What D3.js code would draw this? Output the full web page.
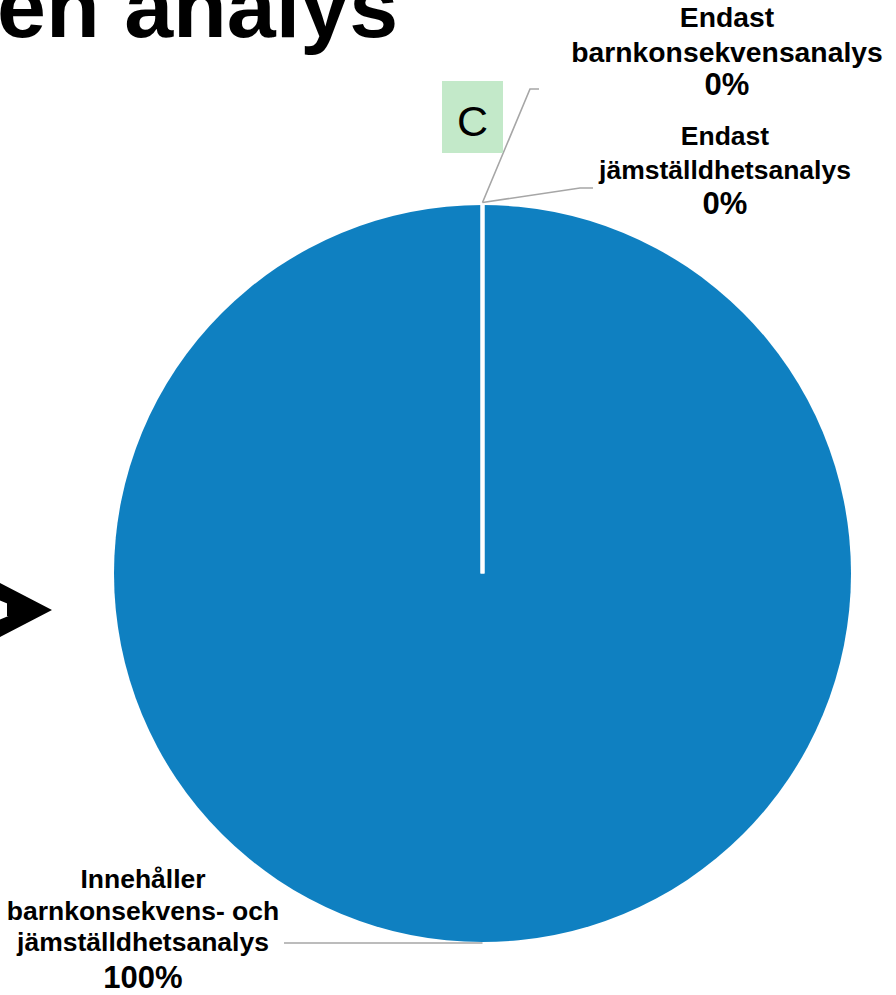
<!DOCTYPE html>
<html>
<head>
<meta charset="utf-8">
<script src="https://cdn.jsdelivr.net/npm/d3@7"></script>
<style>
  html, body { margin: 0; padding: 0; background: #fff; overflow: hidden; }
  svg { display: block; font-family: "Liberation Sans", Arial, sans-serif; }
</style>
</head>
<body>
<svg id="chart" width="896" height="995"></svg>
<script>
// ---- data ----
const categories = [
  "Endast barnkonsekvensanalys",
  "Endast jämställdhetsanalys",
  "Innehåller barnkonsekvens- och jämställdhetsanalys"
];
const values = [0, 0, 100];
const labelLines = [
  ["Endast", "barnkonsekvensanalys"],
  ["Endast", "jämställdhetsanalys"],
  ["Innehåller", "barnkonsekvens- och", "jämställdhetsanalys"]
];
const titleText = "en analys";
const boxText = "C";

// ---- layout ----
const W = 896, H = 995;
const cx = 482.5, cy = 573.5, R = 368.5;
const sliceColor = "#0f80c1";
const leaderColor = "#a6a6a6";

const svg = d3.select("#chart");

// title (cut off at top, as in the reference)
svg.append("text")
  .attr("x", -3).attr("y", 37)
  .attr("font-size", 88).attr("font-weight", "bold")
  .attr("fill", "#000")
  .text(titleText);

// chevron arrow at left
svg.append("path")
  .attr("d", "M-6,580 L52,610 L-6,640 Z M-6,598 L23,610 L-6,622 Z")
  .attr("fill", "#000").attr("fill-rule", "evenodd");
svg.append("rect")
  .attr("x", 7).attr("y", 603).attr("width", 16).attr("height", 13)
  .attr("fill", "#000");

// pie
const total = d3.sum(values);
const pie = d3.pie().sort(null).value(d => d.value).startAngle(0).endAngle(2 * Math.PI);
const arcs = pie(categories.map((c, i) => ({ name: c, value: values[i], lines: labelLines[i] })));
const arc = d3.arc().innerRadius(0).outerRadius(R);

const g = svg.append("g").attr("transform", `translate(${cx},${cy})`);
g.selectAll("path.slice")
  .data(arcs)
  .join("path")
  .attr("class", "slice")
  .attr("d", arc)
  .attr("fill", sliceColor)
  .attr("stroke", "none");
// slice borders (zero-width slices show as the white divider)
g.selectAll("path.border")
  .data(arcs.filter(d => d.endAngle - d.startAngle < 2 * Math.PI - 1e-6))
  .join("path")
  .attr("class", "border")
  .attr("d", arc)
  .attr("fill", "none")
  .attr("stroke", "#fff")
  .attr("stroke-width", 4);

function anchor(d, extra) {
  const a = (d.startAngle + d.endAngle) / 2;
  const r = R + extra;
  return [cx + r * Math.sin(a), cy - r * Math.cos(a)];
}

const labelLayout = [
  { x: 727, fs: 28.3, base: [27, 61.5], pct: 94.5, elbow: [[530, 89], [539, 89]] },
  { x: 725, fs: 26.5, base: [145, 178.5], pct: 214, elbow: [[580, 188], [593, 188]] },
  { x: 143, fs: 26.5, base: [887.5, 919.5, 951], pct: 988, elbow: [[284, 943]] }
];

const pctFmt = d3.format(".0%");
const line = d3.line();

arcs.forEach((d, i) => {
  const L = labelLayout[i];
  const a0 = anchor(d, i < 2 ? 2.5 : -0.5);
  const pts = [[a0[0], a0[1]]].concat(L.elbow);
  if (i === 2) pts[0][1] = 943;
  svg.append("path")
    .attr("d", line(pts))
    .attr("fill", "none")
    .attr("stroke", leaderColor)
    .attr("stroke-width", 1.6);

  const t = svg.append("g").attr("font-weight", "bold").attr("fill", "#000").attr("text-anchor", "middle");
  d.data.lines.forEach((ln, k) => {
    t.append("text").attr("x", L.x).attr("y", L.base[k]).attr("font-size", L.fs).text(ln);
  });
  t.append("text").attr("x", L.x).attr("y", L.pct).attr("font-size", 31)
    .text(pctFmt(d.data.value / total));
});

// green box with letter
svg.append("rect")
  .attr("x", 442).attr("y", 81).attr("width", 61).attr("height", 72)
  .attr("fill", "#c3e9c9");
svg.append("text")
  .attr("x", 472.5).attr("y", 136)
  .attr("text-anchor", "middle")
  .attr("font-size", 43)
  .attr("fill", "#000")
  .text(boxText);
</script>
</body>
</html>
